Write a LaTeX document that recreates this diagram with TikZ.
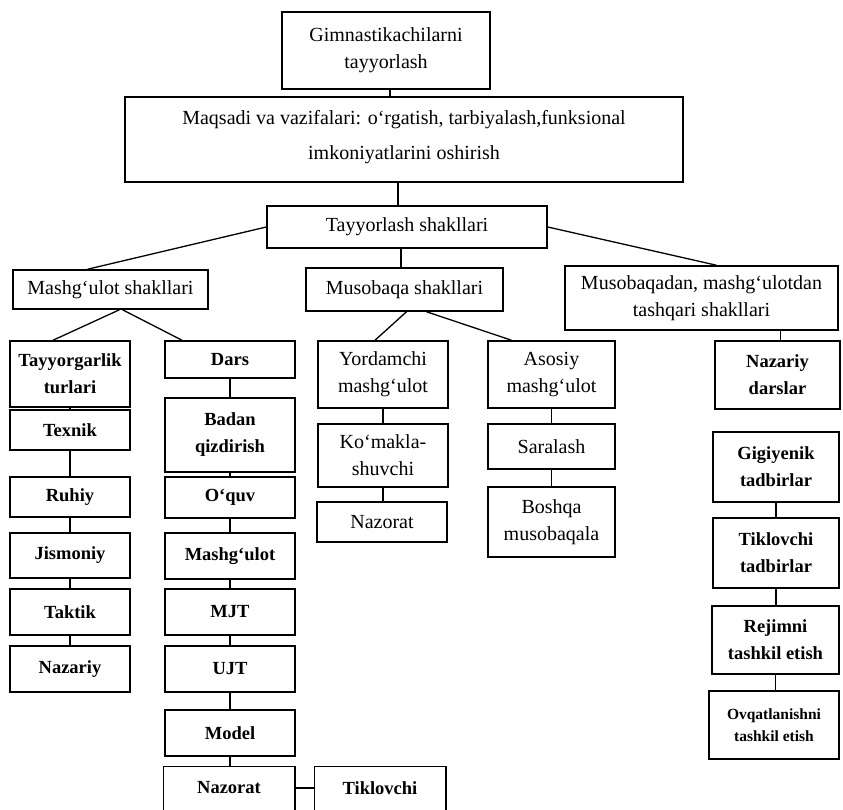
\documentclass[tikz,border=0pt]{standalone}
\usepackage{fontspec}
\setmainfont{Liberation Serif}
\usetikzlibrary{calc}
\tikzset{
  box/.style={draw, line width=1.5pt, align=center, inner sep=1pt,
    font=\fontsize{20}{27}\selectfont},
  bbox/.style={box, font=\bfseries\fontsize{18.5}{27}\selectfont},
  sbox/.style={box, font=\bfseries\fontsize{15.5}{22}\selectfont},
  openbox/.style={bbox, draw=none},
  edge/.style={line width=1.5pt},
  con/.style={line width=1.3pt}
}
\newcommand{\bx}[8]{% style, name, cx, cy, w, h, text
  \node[#1, minimum width=#5pt, minimum height=#6pt] (#2) at (#3,#4) {#7};}
\begin{document}
\begin{tikzpicture}[x=1pt, y=-1pt]
\useasboundingbox[fill=white] (0,0) rectangle (843,810);
\clip (0,0) rectangle (843,810);
% top part
\bx{box}{top}{386}{50.5}{208}{77}{Gimnastikachilarni\\tayyorlash}{}
\node[box, minimum width=558pt, minimum height=85pt, text depth=9pt,
  font=\fontsize{20}{35}\selectfont] (maq) at (404,139.5)
  {Maqsadi va vazifalari: o‘rgatish, tarbiyalash,funksional\\imkoniyatlarini oshirish};
\bx{box}{tay}{407}{227}{280}{42}{Tayyorlash shakllari}{}
\bx{box}{mash}{110.5}{289.5}{195}{39}{Mashg‘ulot shakllari}{}
\bx{box}{muso}{404.5}{289.5}{197}{43}{Musobaqa shakllari}{}
\bx{box}{mst}{701.5}{298}{273}{64}{Musobaqadan, mashg‘ulotdan\\tashqari shakllari}{}
% left column
\bx{bbox}{tt}{70}{374}{120}{66}{Tayyorgarlik\\turlari}{}
\bx{bbox}{texnik}{70}{430}{120}{40}{Texnik}{}
\bx{bbox}{ruhiy}{70}{497}{120}{40}{Ruhiy}{}
\bx{bbox}{jism}{70}{555.5}{120}{45}{Jismoniy}{}
\bx{bbox}{taktik}{70}{612}{120}{46}{Taktik}{}
\bx{bbox}{nazariy}{70}{669}{120}{46}{Nazariy}{}
% second column
\bx{bbox}{dars}{230}{359.5}{130}{37}{Dars}{}
\bx{bbox}{badan}{230}{435}{130}{74}{Badan\\qizdirish}{}
\bx{bbox}{oquv}{230}{497.5}{130}{41}{O‘quv}{}
\bx{bbox}{mgl}{230}{556}{130}{46}{Mashg‘ulot}{}
\bx{bbox}{mjt}{230}{612}{130}{46}{MJT}{}
\bx{bbox}{ujt}{230}{669}{130}{46}{UJT}{}
\bx{bbox}{model}{230}{733}{130}{46}{Model}{}
\bx{openbox}{nazorat}{229}{788}{130}{42}{Nazorat}{}
\bx{openbox}{tikl}{380}{788}{130}{42}{Tiklovchi}{}
\draw[edge] ([yshift=-30pt]nazorat.south west) -- (nazorat.north west) -- (nazorat.north east) -- ([yshift=-30pt]nazorat.south east);
\draw[edge] ([yshift=-30pt]tikl.south west) -- (tikl.north west) -- (tikl.north east) -- ([yshift=-30pt]tikl.south east);
% musobaqa columns
\bx{box}{yor}{383}{374.5}{130}{67}{Yordamchi\\mashg‘ulot}{}
\bx{box}{kom}{383}{455.5}{130}{63}{Ko‘makla-\\shuvchi}{}
\bx{box}{naz2}{382}{522}{130}{40}{Nazorat}{}
\bx{box}{aso}{551.5}{374.5}{127}{67}{Asosiy\\mashg‘ulot}{}
\bx{box}{sar}{551.5}{446.5}{127}{45}{Saralash}{}
\bx{box}{bosh}{551.5}{522}{127}{70}{Boshqa\\musobaqala}{}
% right column
\bx{bbox}{nd}{777.5}{375}{125}{68}{Nazariy\\darslar}{}
\bx{bbox}{gig}{776}{467}{126}{70}{Gigiyenik\\tadbirlar}{}
\bx{bbox}{tik}{776}{553}{126}{70}{Tiklovchi\\tadbirlar}{}
\bx{bbox}{rej}{775.5}{640}{127}{68}{Rejimni\\tashkil etish}{}
\bx{sbox}{ovq}{774}{725}{130}{68}{Ovqatlanishni\\tashkil etish}{}
% connectors
\draw[con] ([xshift=4pt]top.south) -- ([xshift=4pt]top.south |- maq.north);
\draw[con] ([xshift=-9pt]tay.north |- maq.south) -- ([xshift=-9pt]tay.north);
\draw[con] (tay.west) -- ([xshift=-23pt]mash.north);
\draw[con] ([xshift=-6pt]tay.south) -- ([xshift=-6pt]tay.south |- muso.north);
\draw[con] (tay.east) -- ([xshift=15pt]mst.north);
\draw[con] ([xshift=9pt]mash.south) -- ([xshift=-17pt]tt.north);
\draw[con] ([xshift=12pt]mash.south) -- ([xshift=-48pt]dars.north);
\draw[con] ([xshift=2pt]muso.south) -- ([xshift=-8pt]yor.north);
\draw[con] ([xshift=22pt]muso.south) -- ([xshift=-40pt]aso.north);
\draw[con] ([xshift=3pt]nd.north |- mst.south) -- ([xshift=3pt]nd.north);
\foreach \a/\b in {tt/texnik, texnik/ruhiy, ruhiy/jism, jism/taktik, taktik/nazariy,
  dars/badan, badan/oquv, oquv/mgl, mgl/mjt, mjt/ujt, ujt/model,
  yor/kom, kom/naz2, aso/sar, sar/bosh, gig/tik, tik/rej, rej/ovq}
  \draw[con] (\a.south) -- (\a.south |- \b.north);
\draw[con] (model.south) -- (model.south |- nazorat.north);
\draw[con] (nazorat.east) -- (nazorat.east -| tikl.west);
\end{tikzpicture}
\end{document}
